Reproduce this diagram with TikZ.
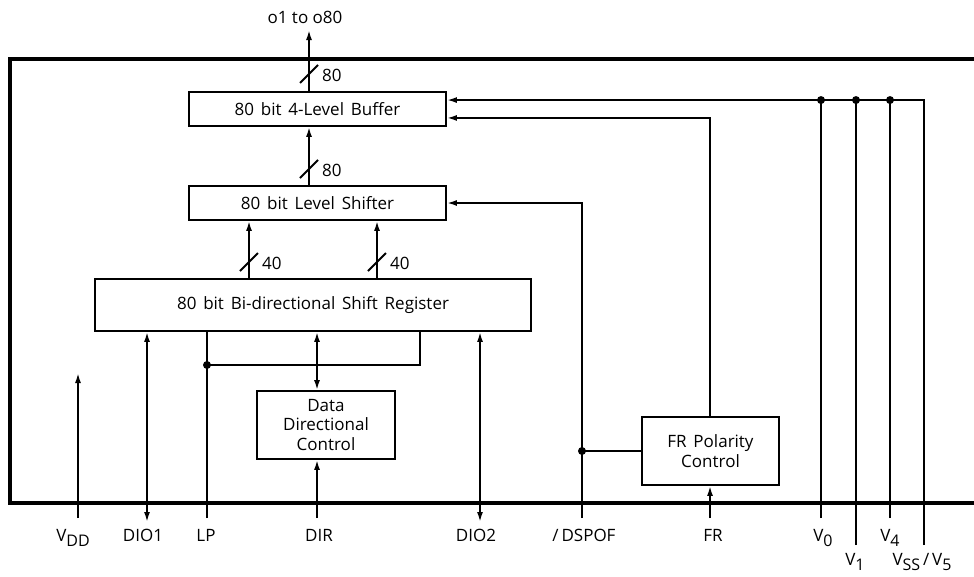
\documentclass[tikz,border=0pt]{standalone}
\usepackage{fontspec}
\setmainfont{Open Sans}
\usetikzlibrary{positioning, calc, arrows.meta}
\newcommand{\lowsub}[1]{\raisebox{-0.3em}{\fontsize{16}{18}\selectfont #1}}

\begin{document}
\begin{tikzpicture}[
    x=1pt, y=-1pt,
    >={Latex[length=10pt,width=6pt]},
    font=\fontsize{17}{19.5}\selectfont,
    % Styles
    block/.style={rectangle, draw, line width=1.8pt, inner sep=0pt, align=center,
      execute at begin node={\spaceskip=0.4em\relax}},
    wire/.style={line width=1.8pt},
    frame/.style={line width=4.7pt, line join=miter},
    junction/.style={circle, fill, inner sep=0pt, minimum size=8pt},
    pinlabel/.style={anchor=base, inner sep=0pt}
  ]
  \useasboundingbox (0,0) rectangle (974,576);
  % 1. Chip outline
  \draw[frame] (974,59) -- (10,59) -- (10,503) -- (974,503);
  % 2. Blocks
  \node[block, minimum width=257pt, minimum height=34pt] (buffer) at (317.5,109) {80 bit 4-Level Buffer};
  \node[block, minimum width=257pt, minimum height=34pt] (shifter) at (317.5,203) {80 bit Level Shifter};
  \node[block, minimum width=436pt, minimum height=52pt] (shiftreg) at (313,305) {80 bit Bi-directional Shift Register};
  \node[block, minimum width=138pt, minimum height=68pt] (ddc) at (326,425) {Data\\Directional\\Control};
  \node[block, minimum width=137pt, minimum height=68pt] (frpc) at (710.5,451) {FR Polarity\\Control};
  % 3. Pin ends
  \coordinate (vdd) at (78,518);
  \coordinate (dio1) at (147,522);
  \coordinate (lp) at (207,518);
  \coordinate (dir) at (317,518);
  \coordinate (dio2) at (480,522);
  \coordinate (dspof) at (582,518);
  \coordinate (fr) at (710,518);
  \coordinate (v0) at (821,518);
  \coordinate (v1) at (856,545);
  \coordinate (v4) at (890,518);
  \coordinate (v5) at (924,545);
  % 4. Output bus and internal buses
  \coordinate (out) at (309,30);
  \node[above=6pt of out, xshift=-4pt, inner sep=0pt] (outlbl) {o1 to o80};
  \draw[wire,->] (buffer.north -| out) -- (out);
  \draw[wire,->] (shifter.north -| out) -- (buffer.south -| out);
  \coordinate (lsa) at (249,262);
  \coordinate (lsb) at (377,262);
  \foreach \b in {lsa, lsb}
    \draw[wire,->] (shiftreg.north -| \b) -- (shifter.south -| \b);
  % bus width marks
  \foreach \x/\y/\w in {309/74/80, 309/169/80, 249/262/40, 377/262/40} {
    \coordinate (s) at (\x,\y);
    \draw[wire] ($(s)+(-9,9)$) -- ($(s)+(9,-9)$);
    \node[anchor=west, inner sep=0pt] at ($(s)+(13,1)$) {\w};
  }
  % 5. Pin connections
  \coordinate (vddend) at (78,373);
  \draw[wire,->] (vdd) -- (vddend);
  \foreach \p in {dio1, dio2}
    \draw[wire,<->] (\p) -- (shiftreg.south -| \p);
  \draw[wire] (lp) -- (shiftreg.south -| lp);
  \node[junction] (lpdot) at (207,365) {};
  \coordinate (lpturn) at (420,365);
  \draw[wire] (lpdot.center) -- (lpturn) -- (shiftreg.south -| lpturn);
  \draw[wire,<->] (shiftreg.south -| dir) -- (ddc.north -| dir);
  \draw[wire,->] (dir) -- (ddc.south -| dir);
  \draw[wire,->] (dspof) |- (shifter.east);
  \node[junction] (dspofdot) at (dspof |- frpc.west) {};
  \draw[wire] (dspofdot.center) -- (frpc.west);
  \draw[wire,->] (fr) -- (frpc.south -| fr);
  \coordinate (bufa) at ($(buffer.north east)!0.25!(buffer.south east)$);
  \coordinate (bufb) at ($(buffer.north east)!0.75!(buffer.south east)$);
  \draw[wire,->] (frpc.north -| fr) |- (bufb);
  % supply lines
  \draw[wire,->] (v5) |- (bufa);
  \foreach \p in {v0, v1, v4} {
    \draw[wire] (\p) -- (\p |- bufa);
    \node[junction] at (\p |- bufa) {};
  }
  % 6. Pin labels
  \foreach \x/\y/\t [count=\i] in {73/541/{V\lowsub{DD}}, 143/541/DIO1, 206/541/LP,
      319/541/DIR, 476/541/DIO2, 584/541/{/\,DSPOF}, 713/541/FR,
      823/541/{V\lowsub{0}}, 855/565/{V\lowsub{1}}, 890/541/{V\lowsub{4}},
      922/565/{V\lowsub{SS}\,/\,V\lowsub{5}}}
    \node[pinlabel] (lbl\i) at (\x,\y) {\t};
\end{tikzpicture}
\end{document}
